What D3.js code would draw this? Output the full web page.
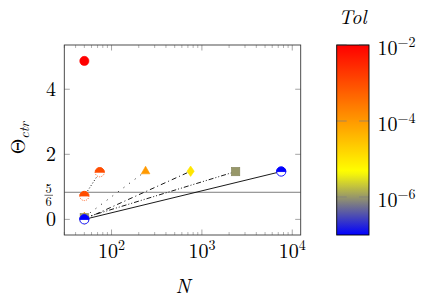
<!DOCTYPE html>
<html><head><meta charset="utf-8">
<script src="https://cdn.jsdelivr.net/npm/d3@7"></script>
<style>body{margin:0;background:#fff}svg{display:block}</style>
</head><body><svg id="c" width="432" height="301"></svg>
<script>
// ---- data ----
const seriesTol   = [1e-2, 1e-3, 1e-4, 1e-5, 1e-6, 1e-7];
const seriesN     = [[50], [50, 74], [50, 238], [50, 750], [50, 2360], [50, 7550]];
const seriesTheta = [[4.87], [0.72, 1.45], [0.07, 1.48], [0.0, 1.48], [0.05, 1.47], [0.0, 1.47]];
const seriesMark  = ["circle", "halfcircle", "triangle", "diamond", "square", "halfcircle"];
const seriesDash  = ["none", "1,2", "1,6", "5,3,1,3", "5,2,1,2,1,2", "solid"];
const refLine = 5/6;
const xTicks = [100, 1000, 10000];
const xTickExp = ["2", "3", "4"];
const yTicks = [0, 2, 4];
const cbTicks = [1e-2, 1e-4, 1e-6];
const cbTickExp = ["−2", "−4", "−6"];
const cmapPos = [-7, -6.15, -5.33, -2];
const cmapCol = ["#0000ff", "#808080", "#ffff00", "#ff0000"];

// ---- layout ----
const FONT = "'Latin Modern Roman', 'Liberation Serif', serif";
const svg = d3.select("#c");
const L = 64.3, R = 300.7, T = 45, B = 235;
const x = d3.scaleLog().domain([30, 12400]).range([L, R]);
const y = d3.scaleLinear().domain([-0.48, 5.36]).range([B, T]);
const cmap = d3.scaleLinear().domain(cmapPos).range(cmapCol).interpolate(d3.interpolateRgb);
const colorOf = t => cmap(Math.log10(t));

const axisCol = "#3a3a3a", tickCol = "#808080";
const FS = "20px", FSup = "14px";
const txt = (sel) => sel.append("text").style("font-family", FONT).style("fill", "#000");

// minor x ticks
const minor = [];
for (let e = 1; e <= 4; e++) for (let m = 2; m <= 9; m++) { const v = m * Math.pow(10, e); if (v >= 30 && v <= 12400) minor.push(v); }
const g = svg.append("g");
minor.forEach(v => {
  g.append("line").attr("x1", x(v)).attr("x2", x(v)).attr("y1", B).attr("y2", B - 3).attr("stroke", tickCol).attr("stroke-width", 0.6);
  g.append("line").attr("x1", x(v)).attr("x2", x(v)).attr("y1", T).attr("y2", T + 3).attr("stroke", tickCol).attr("stroke-width", 0.6);
});
xTicks.forEach(v => {
  g.append("line").attr("x1", x(v)).attr("x2", x(v)).attr("y1", B).attr("y2", B - 5.5).attr("stroke", tickCol).attr("stroke-width", 0.7);
  g.append("line").attr("x1", x(v)).attr("x2", x(v)).attr("y1", T).attr("y2", T + 5.5).attr("stroke", tickCol).attr("stroke-width", 0.7);
});
yTicks.forEach(v => {
  g.append("line").attr("x1", L).attr("x2", L + 5.5).attr("y1", y(v)).attr("y2", y(v)).attr("stroke", tickCol).attr("stroke-width", 0.7);
  g.append("line").attr("x1", R).attr("x2", R - 5.5).attr("y1", y(v)).attr("y2", y(v)).attr("stroke", tickCol).attr("stroke-width", 0.7);
});

// reference line
g.append("line").attr("x1", L).attr("x2", R).attr("y1", y(refLine)).attr("y2", y(refLine)).attr("stroke", "#6e6e6e").attr("stroke-width", 0.9);

// series lines
seriesN.forEach((ns, i) => {
  if (seriesDash[i] === "none" || ns.length < 2) return;
  const pts = ns.map((n, k) => [x(n), y(seriesTheta[i][k])]);
  svg.append("path").attr("d", d3.line()(pts)).attr("fill", "none").attr("stroke", "#000").attr("stroke-width", 0.9)
    .attr("stroke-dasharray", seriesDash[i] === "solid" ? null : seriesDash[i]);
});

// markers
function drawMark(type, cx, cy, col, dash) {
  const mg = svg.append("g").attr("transform", `translate(${cx},${cy})`);
  const r = 4.6;
  if (type === "circle") {
    mg.append("circle").attr("r", r).attr("fill", col).attr("stroke", col).attr("stroke-width", 0.6);
  } else if (type === "halfcircle") {
    const d = (dash === "solid" || dash === "none") ? null : "1,1.2";
    mg.append("circle").attr("r", r).attr("fill", "#fff").attr("stroke", col).attr("stroke-width", 0.9).attr("stroke-dasharray", d);
    mg.append("path").attr("d", `M${-r},0 A${r},${r} 0 0 1 ${r},0 Z`).attr("fill", col).attr("stroke", col).attr("stroke-width", 0.9);
  } else if (type === "triangle") {
    mg.append("path").attr("d", "M0,-5 L4.3,2.6 L-4.3,2.6 Z").attr("fill", col).attr("stroke", col).attr("stroke-width", 0.6);
  } else if (type === "diamond") {
    mg.append("path").attr("d", "M0,-5.2 L3.6,0 L0,5.2 L-3.6,0 Z").attr("fill", col).attr("stroke", col).attr("stroke-width", 0.6);
  } else if (type === "square") {
    mg.append("rect").attr("x", -4.2).attr("y", -4.2).attr("width", 8.4).attr("height", 8.4).attr("fill", col)
      .attr("stroke", d3.color(col).darker(0.4)).attr("stroke-width", 0.6);
  }
}
seriesN.forEach((ns, i) => {
  const col = colorOf(seriesTol[i]);
  ns.forEach((n, k) => drawMark(seriesMark[i], x(n), y(seriesTheta[i][k]), col, seriesDash[i]));
});

// axis box
svg.append("rect").attr("x", L).attr("y", T).attr("width", R - L).attr("height", B - T).attr("fill", "none").attr("stroke", axisCol).attr("stroke-width", 0.9);

// x tick labels
xTicks.forEach((v, i) => {
  const t = txt(svg).attr("x", x(v)).attr("y", 257.5).attr("text-anchor", "middle").style("font-size", FS);
  t.append("tspan").text("10");
  t.append("tspan").attr("dy", -8).style("font-size", FSup).text(xTickExp[i]);
});
// y tick labels
yTicks.forEach(v => {
  txt(svg).attr("x", 56).attr("y", y(v) + 6.5).attr("text-anchor", "end").style("font-size", FS).text(v);
});
// fraction 5/6
const fy = y(refLine) + 3;
txt(svg).attr("x", 48.7).attr("y", fy - 2.2).attr("text-anchor", "middle").style("font-size", "12.5px").text("5");
svg.append("line").attr("x1", 44.5).attr("x2", 53).attr("y1", fy).attr("y2", fy).attr("stroke", "#000").attr("stroke-width", 0.6);
txt(svg).attr("x", 48.7).attr("y", fy + 10.5).attr("text-anchor", "middle").style("font-size", "12.5px").text("6");

// axis labels
txt(svg).attr("x", 183).attr("y", 293).attr("text-anchor", "middle").style("font-size", "20px").style("font-style", "italic").text("N");
const yl = txt(svg).attr("transform", "translate(25,138) rotate(-90)").attr("text-anchor", "middle");
yl.append("tspan").style("font-size", "20px").text("Θ");
yl.append("tspan").attr("dy", 4).style("font-size", "14px").style("font-style", "italic").text("ctr");

// colorbar
const cbL = 336.7, cbR = 369;
const cy = d3.scaleLog().domain([1e-7, 1e-2]).range([B, T]);
const grad = svg.append("defs").append("linearGradient").attr("id", "cb").attr("x1", 0).attr("y1", 1).attr("x2", 0).attr("y2", 0);
d3.range(0, 51).forEach(k => {
  const lv = -7 + 5 * k / 50;
  grad.append("stop").attr("offset", k / 50).attr("stop-color", cmap(lv));
});
svg.append("rect").attr("x", cbL).attr("y", T).attr("width", cbR - cbL).attr("height", B - T).attr("fill", "url(#cb)");
cbTicks.forEach((t, i) => {
  const ty = cy(t);
  svg.append("line").attr("x1", cbL).attr("x2", cbL + 10).attr("y1", ty).attr("y2", ty).attr("stroke", tickCol).attr("stroke-width", 0.7);
  svg.append("line").attr("x1", cbR).attr("x2", cbR - 10).attr("y1", ty).attr("y2", ty).attr("stroke", tickCol).attr("stroke-width", 0.7);
  const tx = txt(svg).attr("x", 377.5).attr("y", ty + 10).style("font-size", FS);
  tx.append("tspan").text("10");
  tx.append("tspan").attr("dy", -8).style("font-size", FSup).text(cbTickExp[i]);
});
svg.append("rect").attr("x", cbL).attr("y", T).attr("width", cbR - cbL).attr("height", B - T).attr("fill", "none").attr("stroke", "#000").attr("stroke-width", 0.9);
txt(svg).attr("x", 352.5).attr("y", 24).attr("text-anchor", "middle").style("font-size", "20px").style("font-style", "italic").text("Tol");
</script></body></html>
